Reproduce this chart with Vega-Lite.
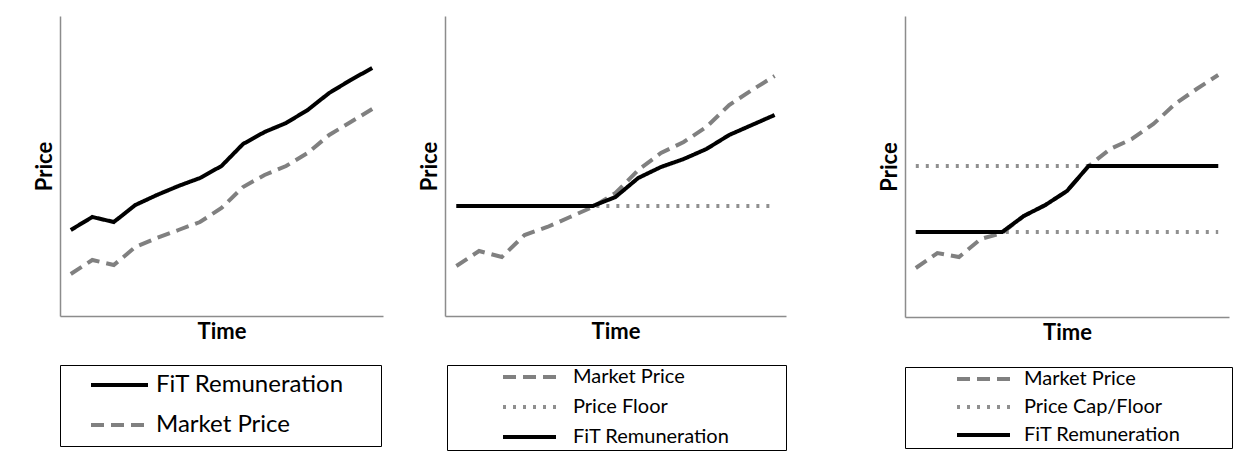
{
  "$schema": "https://vega.github.io/schema/vega-lite/v6.json",
  "padding": {"left": 33, "top": 16, "right": 0, "bottom": 0},
  "background": "white",
  "data": {"values": [
    {"panel":1,"series":"Market Price","line":"market","t":0,"price":42},
    {"panel":1,"series":"Market Price","line":"market","t":1,"price":56},
    {"panel":1,"series":"Market Price","line":"market","t":2,"price":51},
    {"panel":1,"series":"Market Price","line":"market","t":3,"price":69},
    {"panel":1,"series":"Market Price","line":"market","t":4,"price":78},
    {"panel":1,"series":"Market Price","line":"market","t":5,"price":86},
    {"panel":1,"series":"Market Price","line":"market","t":6,"price":94},
    {"panel":1,"series":"Market Price","line":"market","t":7,"price":108},
    {"panel":1,"series":"Market Price","line":"market","t":8,"price":129},
    {"panel":1,"series":"Market Price","line":"market","t":9,"price":141},
    {"panel":1,"series":"Market Price","line":"market","t":10,"price":150},
    {"panel":1,"series":"Market Price","line":"market","t":11,"price":163},
    {"panel":1,"series":"Market Price","line":"market","t":12,"price":181},
    {"panel":1,"series":"Market Price","line":"market","t":13,"price":194},
    {"panel":1,"series":"Market Price","line":"market","t":14,"price":207},
    {"panel":1,"series":"FiT Remuneration","line":"fit","t":0,"price":86},
    {"panel":1,"series":"FiT Remuneration","line":"fit","t":1,"price":99},
    {"panel":1,"series":"FiT Remuneration","line":"fit","t":2,"price":94},
    {"panel":1,"series":"FiT Remuneration","line":"fit","t":3,"price":111},
    {"panel":1,"series":"FiT Remuneration","line":"fit","t":4,"price":121},
    {"panel":1,"series":"FiT Remuneration","line":"fit","t":5,"price":130},
    {"panel":1,"series":"FiT Remuneration","line":"fit","t":6,"price":138},
    {"panel":1,"series":"FiT Remuneration","line":"fit","t":7,"price":150},
    {"panel":1,"series":"FiT Remuneration","line":"fit","t":8,"price":172},
    {"panel":1,"series":"FiT Remuneration","line":"fit","t":9,"price":184},
    {"panel":1,"series":"FiT Remuneration","line":"fit","t":10,"price":193},
    {"panel":1,"series":"FiT Remuneration","line":"fit","t":11,"price":206},
    {"panel":1,"series":"FiT Remuneration","line":"fit","t":12,"price":223},
    {"panel":1,"series":"FiT Remuneration","line":"fit","t":13,"price":236},
    {"panel":1,"series":"FiT Remuneration","line":"fit","t":14,"price":248},

    {"panel":2,"series":"Price Floor","line":"floor","t":0,"price":110},
    {"panel":2,"series":"Price Floor","line":"floor","t":1,"price":110},
    {"panel":2,"series":"Price Floor","line":"floor","t":2,"price":110},
    {"panel":2,"series":"Price Floor","line":"floor","t":3,"price":110},
    {"panel":2,"series":"Price Floor","line":"floor","t":4,"price":110},
    {"panel":2,"series":"Price Floor","line":"floor","t":5,"price":110},
    {"panel":2,"series":"Price Floor","line":"floor","t":6,"price":110},
    {"panel":2,"series":"Price Floor","line":"floor","t":7,"price":110},
    {"panel":2,"series":"Price Floor","line":"floor","t":8,"price":110},
    {"panel":2,"series":"Price Floor","line":"floor","t":9,"price":110},
    {"panel":2,"series":"Price Floor","line":"floor","t":10,"price":110},
    {"panel":2,"series":"Price Floor","line":"floor","t":11,"price":110},
    {"panel":2,"series":"Price Floor","line":"floor","t":12,"price":110},
    {"panel":2,"series":"Price Floor","line":"floor","t":13,"price":110},
    {"panel":2,"series":"Price Floor","line":"floor","t":14,"price":110},
    {"panel":2,"series":"Market Price","line":"market","t":0,"price":50},
    {"panel":2,"series":"Market Price","line":"market","t":1,"price":65},
    {"panel":2,"series":"Market Price","line":"market","t":2,"price":59},
    {"panel":2,"series":"Market Price","line":"market","t":3,"price":81},
    {"panel":2,"series":"Market Price","line":"market","t":4,"price":89},
    {"panel":2,"series":"Market Price","line":"market","t":5,"price":99},
    {"panel":2,"series":"Market Price","line":"market","t":6,"price":109},
    {"panel":2,"series":"Market Price","line":"market","t":7,"price":123},
    {"panel":2,"series":"Market Price","line":"market","t":8,"price":146},
    {"panel":2,"series":"Market Price","line":"market","t":9,"price":163},
    {"panel":2,"series":"Market Price","line":"market","t":10,"price":174},
    {"panel":2,"series":"Market Price","line":"market","t":11,"price":189},
    {"panel":2,"series":"Market Price","line":"market","t":12,"price":211},
    {"panel":2,"series":"Market Price","line":"market","t":13,"price":226},
    {"panel":2,"series":"Market Price","line":"market","t":14,"price":240},
    {"panel":2,"series":"FiT Remuneration","line":"fit","t":0,"price":110},
    {"panel":2,"series":"FiT Remuneration","line":"fit","t":1,"price":110},
    {"panel":2,"series":"FiT Remuneration","line":"fit","t":2,"price":110},
    {"panel":2,"series":"FiT Remuneration","line":"fit","t":3,"price":110},
    {"panel":2,"series":"FiT Remuneration","line":"fit","t":4,"price":110},
    {"panel":2,"series":"FiT Remuneration","line":"fit","t":5,"price":110},
    {"panel":2,"series":"FiT Remuneration","line":"fit","t":6,"price":110},
    {"panel":2,"series":"FiT Remuneration","line":"fit","t":7,"price":119},
    {"panel":2,"series":"FiT Remuneration","line":"fit","t":8,"price":138},
    {"panel":2,"series":"FiT Remuneration","line":"fit","t":9,"price":149},
    {"panel":2,"series":"FiT Remuneration","line":"fit","t":10,"price":157},
    {"panel":2,"series":"FiT Remuneration","line":"fit","t":11,"price":167},
    {"panel":2,"series":"FiT Remuneration","line":"fit","t":12,"price":181},
    {"panel":2,"series":"FiT Remuneration","line":"fit","t":13,"price":191},
    {"panel":2,"series":"FiT Remuneration","line":"fit","t":14,"price":201},

    {"panel":3,"series":"Price Cap/Floor","line":"cap","t":0,"price":151},
    {"panel":3,"series":"Price Cap/Floor","line":"cap","t":1,"price":151},
    {"panel":3,"series":"Price Cap/Floor","line":"cap","t":2,"price":151},
    {"panel":3,"series":"Price Cap/Floor","line":"cap","t":3,"price":151},
    {"panel":3,"series":"Price Cap/Floor","line":"cap","t":4,"price":151},
    {"panel":3,"series":"Price Cap/Floor","line":"cap","t":5,"price":151},
    {"panel":3,"series":"Price Cap/Floor","line":"cap","t":6,"price":151},
    {"panel":3,"series":"Price Cap/Floor","line":"cap","t":7,"price":151},
    {"panel":3,"series":"Price Cap/Floor","line":"cap","t":8,"price":151},
    {"panel":3,"series":"Price Cap/Floor","line":"cap","t":9,"price":151},
    {"panel":3,"series":"Price Cap/Floor","line":"cap","t":10,"price":151},
    {"panel":3,"series":"Price Cap/Floor","line":"cap","t":11,"price":151},
    {"panel":3,"series":"Price Cap/Floor","line":"cap","t":12,"price":151},
    {"panel":3,"series":"Price Cap/Floor","line":"cap","t":13,"price":151},
    {"panel":3,"series":"Price Cap/Floor","line":"cap","t":14,"price":151},
    {"panel":3,"series":"Price Cap/Floor","line":"floor","t":0,"price":85},
    {"panel":3,"series":"Price Cap/Floor","line":"floor","t":1,"price":85},
    {"panel":3,"series":"Price Cap/Floor","line":"floor","t":2,"price":85},
    {"panel":3,"series":"Price Cap/Floor","line":"floor","t":3,"price":85},
    {"panel":3,"series":"Price Cap/Floor","line":"floor","t":4,"price":85},
    {"panel":3,"series":"Price Cap/Floor","line":"floor","t":5,"price":85},
    {"panel":3,"series":"Price Cap/Floor","line":"floor","t":6,"price":85},
    {"panel":3,"series":"Price Cap/Floor","line":"floor","t":7,"price":85},
    {"panel":3,"series":"Price Cap/Floor","line":"floor","t":8,"price":85},
    {"panel":3,"series":"Price Cap/Floor","line":"floor","t":9,"price":85},
    {"panel":3,"series":"Price Cap/Floor","line":"floor","t":10,"price":85},
    {"panel":3,"series":"Price Cap/Floor","line":"floor","t":11,"price":85},
    {"panel":3,"series":"Price Cap/Floor","line":"floor","t":12,"price":85},
    {"panel":3,"series":"Price Cap/Floor","line":"floor","t":13,"price":85},
    {"panel":3,"series":"Price Cap/Floor","line":"floor","t":14,"price":85},
    {"panel":3,"series":"Market Price","line":"market","t":0,"price":49},
    {"panel":3,"series":"Market Price","line":"market","t":1,"price":64},
    {"panel":3,"series":"Market Price","line":"market","t":2,"price":60},
    {"panel":3,"series":"Market Price","line":"market","t":3,"price":78},
    {"panel":3,"series":"Market Price","line":"market","t":4,"price":84},
    {"panel":3,"series":"Market Price","line":"market","t":5,"price":101},
    {"panel":3,"series":"Market Price","line":"market","t":6,"price":112},
    {"panel":3,"series":"Market Price","line":"market","t":7,"price":126},
    {"panel":3,"series":"Market Price","line":"market","t":8,"price":151},
    {"panel":3,"series":"Market Price","line":"market","t":9,"price":168},
    {"panel":3,"series":"Market Price","line":"market","t":10,"price":178},
    {"panel":3,"series":"Market Price","line":"market","t":11,"price":193},
    {"panel":3,"series":"Market Price","line":"market","t":12,"price":213},
    {"panel":3,"series":"Market Price","line":"market","t":13,"price":228},
    {"panel":3,"series":"Market Price","line":"market","t":14,"price":242},
    {"panel":3,"series":"FiT Remuneration","line":"fit","t":0,"price":85},
    {"panel":3,"series":"FiT Remuneration","line":"fit","t":1,"price":85},
    {"panel":3,"series":"FiT Remuneration","line":"fit","t":2,"price":85},
    {"panel":3,"series":"FiT Remuneration","line":"fit","t":3,"price":85},
    {"panel":3,"series":"FiT Remuneration","line":"fit","t":4,"price":85},
    {"panel":3,"series":"FiT Remuneration","line":"fit","t":5,"price":101},
    {"panel":3,"series":"FiT Remuneration","line":"fit","t":6,"price":112},
    {"panel":3,"series":"FiT Remuneration","line":"fit","t":7,"price":126},
    {"panel":3,"series":"FiT Remuneration","line":"fit","t":8,"price":151},
    {"panel":3,"series":"FiT Remuneration","line":"fit","t":9,"price":151},
    {"panel":3,"series":"FiT Remuneration","line":"fit","t":10,"price":151},
    {"panel":3,"series":"FiT Remuneration","line":"fit","t":11,"price":151},
    {"panel":3,"series":"FiT Remuneration","line":"fit","t":12,"price":151},
    {"panel":3,"series":"FiT Remuneration","line":"fit","t":13,"price":151},
    {"panel":3,"series":"FiT Remuneration","line":"fit","t":14,"price":151}
  ]},
  "config": {
    "view": {"stroke": null},
    "font": "Lato",
    "axis": {"ticks": false, "labels": false, "grid": false, "domainColor": "#8c8c8c", "domainWidth": 1.5, "titleFont": "Lato", "titleFontSize": 22, "titleFontWeight": "bold", "titleColor": "#000000"},
    "axisY": {"titlePadding": 4},
    "axisX": {"titlePadding": 5},
    "legend": {"orient": "none", "strokeColor": "#000000", "symbolType": "stroke", "symbolStrokeWidth": 4, "labelFont": "Lato", "labelColor": "#000000", "labelLimit": 0, "titleFontSize": 1, "titleOrient": "right", "direction": "vertical"},
    "line": {"strokeWidth": 4}
  },
  "spacing": 91,
  "resolve": {"scale": {"color": "independent", "strokeDash": "independent", "x": "independent", "y": "independent"}, "legend": {"color": "independent", "strokeDash": "independent"}},
  "hconcat": [
    {
      "spacing": 35,
      "resolve": {"scale": {"color": "independent", "strokeDash": "independent", "x": "independent", "y": "independent"}, "legend": {"color": "independent", "strokeDash": "independent"}},
      "hconcat": [
        {
          "width": 323, "height": 300,
          "transform": [{"filter": "datum.panel == 1"}],
          "mark": {"type": "line", "strokeWidth": 4},
          "encoding": {
            "x": {"field": "t", "type": "quantitative", "scale": {"domain": [-0.5, 14.5], "nice": false, "zero": false}, "axis": {"title": "Time"}},
            "y": {"field": "price", "type": "quantitative", "scale": {"domain": [0, 300], "nice": false}, "axis": {"title": "Price"}},
            "detail": {"field": "line", "type": "nominal"},
            "color": {"field": "series", "type": "nominal", "scale": {"domain": ["FiT Remuneration", "Market Price"], "range": ["#000000", "#808080"]},
              "legend": {"title": " ", "legendX": 0, "legendY": 349, "padding": 9, "clipHeight": 22, "symbolSize": 3249, "symbolOffset": 20, "labelOffset": 6, "labelFontSize": 24, "rowPadding": 16, "titlePadding": 28}},
            "strokeDash": {"field": "series", "type": "nominal", "scale": {"domain": ["FiT Remuneration", "Market Price"], "range": [[1, 0], [13, 7]]}, "legend": {"title": " "}}
          }
        },
        {
          "width": 341, "height": 300,
          "transform": [{"filter": "datum.panel == 2"}],
          "mark": {"type": "line", "strokeWidth": 4},
          "encoding": {
            "x": {"field": "t", "type": "quantitative", "scale": {"domain": [-0.5, 14.5], "nice": false, "zero": false}, "axis": {"title": "Time"}},
            "y": {"field": "price", "type": "quantitative", "scale": {"domain": [0, 300], "nice": false}, "axis": {"title": "Price"}},
            "detail": {"field": "line", "type": "nominal"},
            "color": {"field": "series", "type": "nominal", "scale": {"domain": ["Market Price", "Price Floor", "FiT Remuneration"], "range": ["#808080", "#8f8f8f", "#000000"]},
              "legend": {"title": " ", "legendX": 2, "legendY": 349, "padding": 3, "clipHeight": 18, "symbolSize": 2809, "symbolOffset": 51, "labelOffset": 15, "labelFontSize": 20, "rowPadding": 10, "titlePadding": 54}},
            "strokeDash": {"field": "series", "type": "nominal", "scale": {"domain": ["Market Price", "Price Floor", "FiT Remuneration"], "range": [[13, 7], [3, 7], [1, 0]]}, "legend": {"title": " "}}
          }
        }
      ]
    },
    {
      "width": 324, "height": 301,
      "transform": [{"filter": "datum.panel == 3"}],
      "mark": {"type": "line", "strokeWidth": 4},
      "encoding": {
        "x": {"field": "t", "type": "quantitative", "scale": {"domain": [-0.5, 14.5], "nice": false, "zero": false}, "axis": {"title": "Time"}},
        "y": {"field": "price", "type": "quantitative", "scale": {"domain": [0, 301], "nice": false}, "axis": {"title": "Price"}},
        "detail": {"field": "line", "type": "nominal"},
        "color": {"field": "series", "type": "nominal", "scale": {"domain": ["Market Price", "Price Cap/Floor", "FiT Remuneration"], "range": ["#808080", "#8f8f8f", "#000000"]},
          "legend": {"title": " ", "legendX": 0, "legendY": 351, "padding": 3, "clipHeight": 18, "symbolSize": 2809, "symbolOffset": 47, "labelOffset": 12, "labelFontSize": 20, "rowPadding": 8, "titlePadding": 49}},
        "strokeDash": {"field": "series", "type": "nominal", "scale": {"domain": ["Market Price", "Price Cap/Floor", "FiT Remuneration"], "range": [[13, 7], [3, 7], [1, 0]]}, "legend": {"title": " "}}
      }
    }
  ]
}
